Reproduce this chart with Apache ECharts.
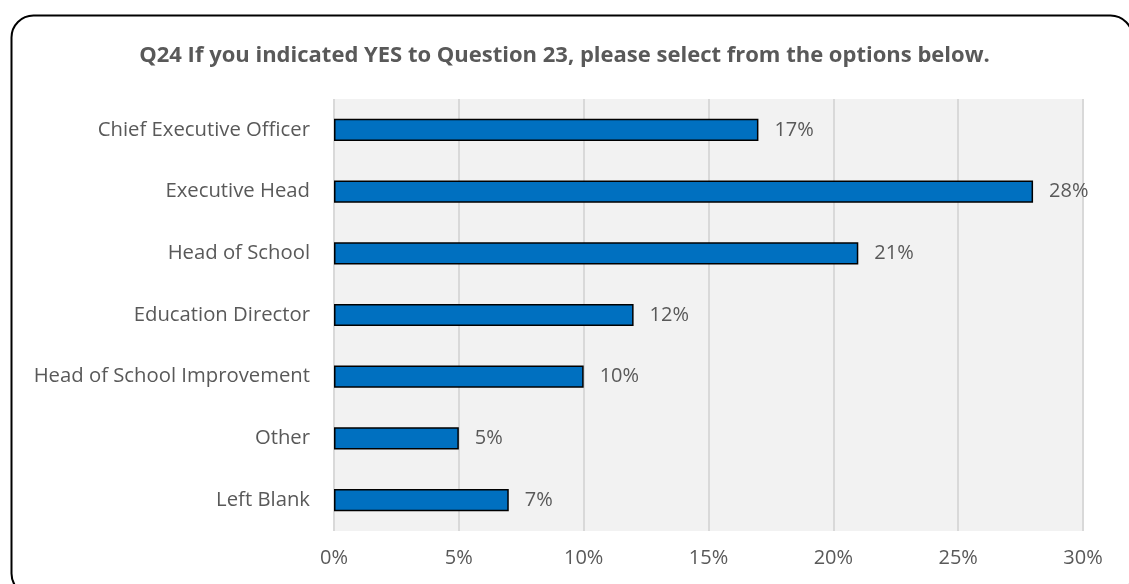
<!DOCTYPE html>
<html>
<head>
<meta charset="utf-8">
<script src="https://cdn.jsdelivr.net/npm/echarts@6/dist/echarts.min.js"></script>
<style>
  html, body { margin: 0; padding: 0; background: #ffffff; }
  #chart { width: 1129px; height: 584px; }
</style>
</head>
<body>
<div id="chart"></div>
<script>
// Survey responses, top to bottom as displayed
const categories = [
  'Chief Executive Officer',
  'Executive Head',
  'Head of School',
  'Education Director',
  'Head of School Improvement',
  'Other',
  'Left Blank'
];
const shares = [17, 28, 21, 12, 10, 5, 7];
const tickValues = [0, 5, 10, 15, 20, 25, 30];

const titleText = 'Q24 If you indicated YES to Question 23, please select from the options below.';
const FONT = '"Open Sans", "Noto Sans", sans-serif';
const GREY = '#595959';

const chart = echarts.init(document.getElementById('chart'));

chart.setOption({
  animation: false,
  backgroundColor: '#ffffff',
  title: {
    text: titleText,
    left: 'center',
    top: 40,
    textStyle: { fontFamily: FONT, fontWeight: 'bold', fontSize: 22, color: GREY }
  },
  graphic: [{
    type: 'rect',
    left: 9, top: 13,
    shape: { width: 1121, height: 580, r: 22 },
    style: { fill: 'none', stroke: '#000000', lineWidth: 2 },
    silent: true
  }],
  grid: {
    left: 334, right: 46, top: 99, bottom: 53,
    show: true,
    backgroundColor: '#f2f2f2',
    borderWidth: 0
  },
  xAxis: {
    type: 'value',
    min: tickValues[0],
    max: tickValues[tickValues.length - 1],
    interval: 5,
    axisLine: { show: false },
    axisTick: { show: false },
    splitLine: { show: true, lineStyle: { color: '#d9d9d9', width: 2 } },
    axisLabel: {
      formatter: v => v + '%',
      fontFamily: FONT, fontSize: 20, color: GREY, margin: 17
    }
  },
  yAxis: {
    type: 'category',
    data: categories,
    inverse: true,
    axisLine: { show: false },
    axisTick: { show: false },
    axisLabel: { fontFamily: FONT, fontSize: 20.3, color: GREY, margin: 24 }
  },
  series: [{
    type: 'bar',
    data: shares,
    barWidth: '36%',
    itemStyle: { color: '#0070c0', borderColor: '#000000', borderWidth: 1.5 },
    label: {
      show: true,
      position: 'right',
      distance: 16,
      formatter: p => p.value + '%',
      fontFamily: FONT, fontSize: 20, color: GREY
    }
  }]
});
</script>
</body>
</html>
